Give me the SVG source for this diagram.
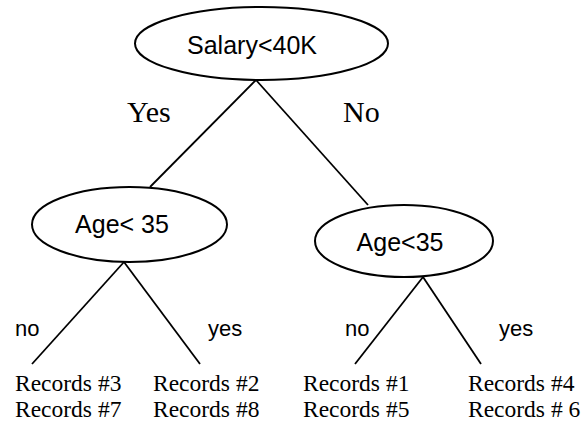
<svg xmlns="http://www.w3.org/2000/svg" width="588" height="424" viewBox="0 0 588 424">
  <style>
    .node { fill: #ffffff; stroke: #000000; stroke-width: 2; }
    .edge { stroke: #000000; stroke-width: 1.8; fill: none; }
    .cond { font-family: "Liberation Sans", "Open Sans", sans-serif; font-size: 25px; fill: #000000; text-anchor: middle; }
    .branch { font-family: "Liberation Serif", "Times New Roman", serif; font-size: 30px; fill: #000000; }
    .leaflabel { font-family: "Liberation Sans", Arial, sans-serif; font-size: 22px; fill: #000000; }
    .records { font-family: "Liberation Serif", "Times New Roman", serif; font-size: 23.5px; fill: #000000; }
  </style>

  <rect width="588" height="424" fill="#ffffff"/>

  <!-- connectors -->
  <g id="connectors">
    <line class="edge" x1="256" y1="80" x2="150" y2="187"/>
    <line class="edge" x1="256" y1="80" x2="368" y2="205"/>
    <line class="edge" x1="124" y1="262" x2="32" y2="364"/>
    <line class="edge" x1="124" y1="262" x2="200" y2="364"/>
    <line class="edge" x1="423" y1="277" x2="355" y2="364"/>
    <line class="edge" x1="423" y1="277" x2="481" y2="364"/>
  </g>

  <!-- branch labels -->
  <g id="branch-labels">
    <text class="branch" x="127" y="122">Yes</text>
    <text class="branch" x="343" y="122">No</text>
    <text class="leaflabel" x="15" y="336">no</text>
    <text class="leaflabel" x="208" y="336">yes</text>
    <text class="leaflabel" x="345" y="336">no</text>
    <text class="leaflabel" x="499" y="336">yes</text>
  </g>

  <!-- decision nodes -->
  <g id="root">
    <ellipse class="node" cx="261.5" cy="43.5" rx="126.5" ry="36.5"/>
    <text class="cond" x="252" y="54">Salary&lt;40K</text>
  </g>
  <g id="age-left">
    <ellipse class="node" cx="129.5" cy="224.5" rx="97.5" ry="37.5"/>
    <text class="cond" x="122" y="233">Age&lt; 35</text>
  </g>
  <g id="age-right">
    <ellipse class="node" cx="404" cy="241" rx="89" ry="36"/>
    <text class="cond" x="400" y="251">Age&lt;35</text>
  </g>

  <!-- leaf record sets -->
  <g id="leaf-1">
    <text class="records" x="15" y="391">Records #3</text>
    <text class="records" x="15" y="417">Records #7</text>
  </g>
  <g id="leaf-2">
    <text class="records" x="153" y="391">Records #2</text>
    <text class="records" x="153" y="417">Records #8</text>
  </g>
  <g id="leaf-3">
    <text class="records" x="303" y="391">Records #1</text>
    <text class="records" x="303" y="417">Records #5</text>
  </g>
  <g id="leaf-4">
    <text class="records" x="468" y="391">Records #4</text>
    <text class="records" x="468" y="417">Records # 6</text>
  </g>
</svg>
